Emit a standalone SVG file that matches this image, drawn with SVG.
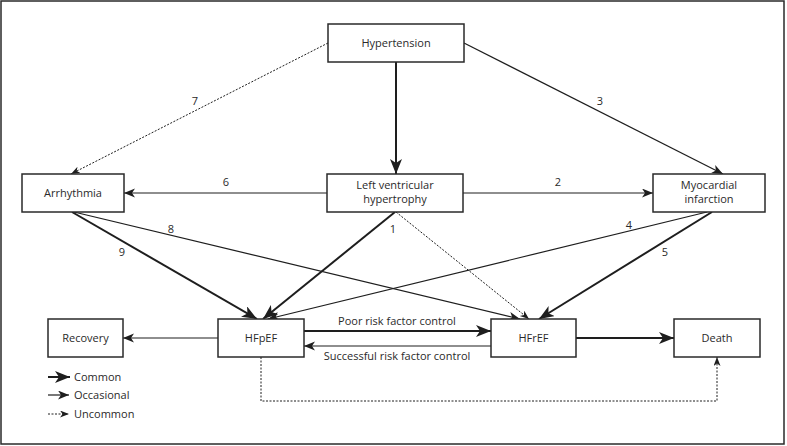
<svg xmlns="http://www.w3.org/2000/svg" width="787" height="446" viewBox="0 0 787 446">
<style>
.box{fill:#fff;stroke:#2a2a2a;stroke-width:1.5}
.t{font-family:"Open Sans","Liberation Sans",sans-serif;font-size:11px;fill:#2a2a2a;text-anchor:middle}
.tl{font-family:"Open Sans","Liberation Sans",sans-serif;font-size:11px;fill:#2a2a2a}
.c{fill:none;stroke:#1e1e1e;stroke-width:2;marker-end:url(#mC)}
.o{fill:none;stroke:#1e1e1e;stroke-width:1.2;marker-end:url(#mO)}
.u{fill:none;stroke:#1e1e1e;stroke-width:1;stroke-dasharray:2,1.5;marker-end:url(#mU)}
</style>
<defs>
<marker id="mC" markerUnits="userSpaceOnUse" markerWidth="16" markerHeight="12" refX="15" refY="6" orient="auto">
<path d="M0,0 L15,6 L0,12 L4,6 z" fill="#1e1e1e"/>
</marker>
<marker id="mO" markerUnits="userSpaceOnUse" markerWidth="12" markerHeight="10" refX="11" refY="4.5" orient="auto">
<path d="M0,0 L11,4.5 L0,9 L3,4.5 z" fill="#1e1e1e"/>
</marker>
<marker id="mU" markerUnits="userSpaceOnUse" markerWidth="10" markerHeight="8" refX="9" refY="3.5" orient="auto">
<path d="M0,0 L9,3.5 L0,7 L2.5,3.5 z" fill="#1e1e1e"/>
</marker>
</defs>
<rect x="1" y="1" width="783" height="443" fill="#fff" stroke="#2a2a2a" stroke-width="1.5"/>
<g id="connectors">
<path class="c" d="M396,62 L396,174"/>
<path class="u" d="M328,43 L71,174"/>
<path class="o" d="M464,43 L723,174"/>
<path class="o" d="M327,193 L124,193"/>
<path class="o" d="M463,193 L653,193"/>
<path class="c" d="M395,212 L263,319"/>
<path class="u" d="M396,212 L529,319"/>
<path class="c" d="M72,212 L257,319"/>
<path class="o" d="M74,212 L520,319"/>
<path class="o" d="M707,212 L268,319"/>
<path class="c" d="M712,212 L539,319"/>
<path class="o" d="M218,338 L123,338"/>
<path class="c" d="M304,331 L491,331"/>
<path class="o" d="M491,346 L304,346"/>
<path class="c" d="M576,338 L674,338"/>
<path class="u" d="M261,357 L261,401 L717,401 L717,357"/>
<text class="t" x="195" y="105">7</text>
<text class="t" x="600" y="105">3</text>
<text class="t" x="226" y="186">6</text>
<text class="t" x="558" y="186">2</text>
<text class="t" x="393" y="233">1</text>
<text class="t" x="171" y="233">8</text>
<text class="t" x="122" y="256">9</text>
<text class="t" x="629" y="229">4</text>
<text class="t" x="665" y="256">5</text>
<text class="t" x="397" y="325">Poor risk factor control</text>
<text class="t" x="397" y="360">Successful risk factor control</text>
</g>
<g id="hypertension"><rect class="box" x="328" y="24" width="136" height="38"/><text class="t" x="396" y="47">Hypertension</text></g>
<g id="lvh"><rect class="box" x="327" y="174" width="136" height="38"/><text class="t" x="395" y="189">Left ventricular</text><text class="t" x="395" y="203">hypertrophy</text></g>
<g id="arrhythmia"><rect class="box" x="22" y="174" width="102" height="38"/><text class="t" x="73" y="197">Arrhythmia</text></g>
<g id="mi"><rect class="box" x="653" y="174" width="112" height="38"/><text class="t" x="709" y="189">Myocardial</text><text class="t" x="709" y="203">infarction</text></g>
<g id="recovery"><rect class="box" x="48" y="319" width="75" height="38"/><text class="t" x="85.5" y="342">Recovery</text></g>
<g id="hfpef"><rect class="box" x="218" y="319" width="86" height="38"/><text class="t" x="261" y="342">HFpEF</text></g>
<g id="hfref"><rect class="box" x="491" y="319" width="85" height="38"/><text class="t" x="533.5" y="342">HFrEF</text></g>
<g id="death"><rect class="box" x="674" y="319" width="86" height="38"/><text class="t" x="717" y="342">Death</text></g>
<g id="legend">
<path class="c" d="M48,377 L70,377"/>
<text class="tl" x="74" y="381">Common</text>
<path class="o" d="M48,395 L69,395"/>
<text class="tl" x="74" y="399">Occasional</text>
<path class="u" d="M48,414 L69,414"/>
<text class="tl" x="74" y="418">Uncommon</text>
</g>
</svg>
